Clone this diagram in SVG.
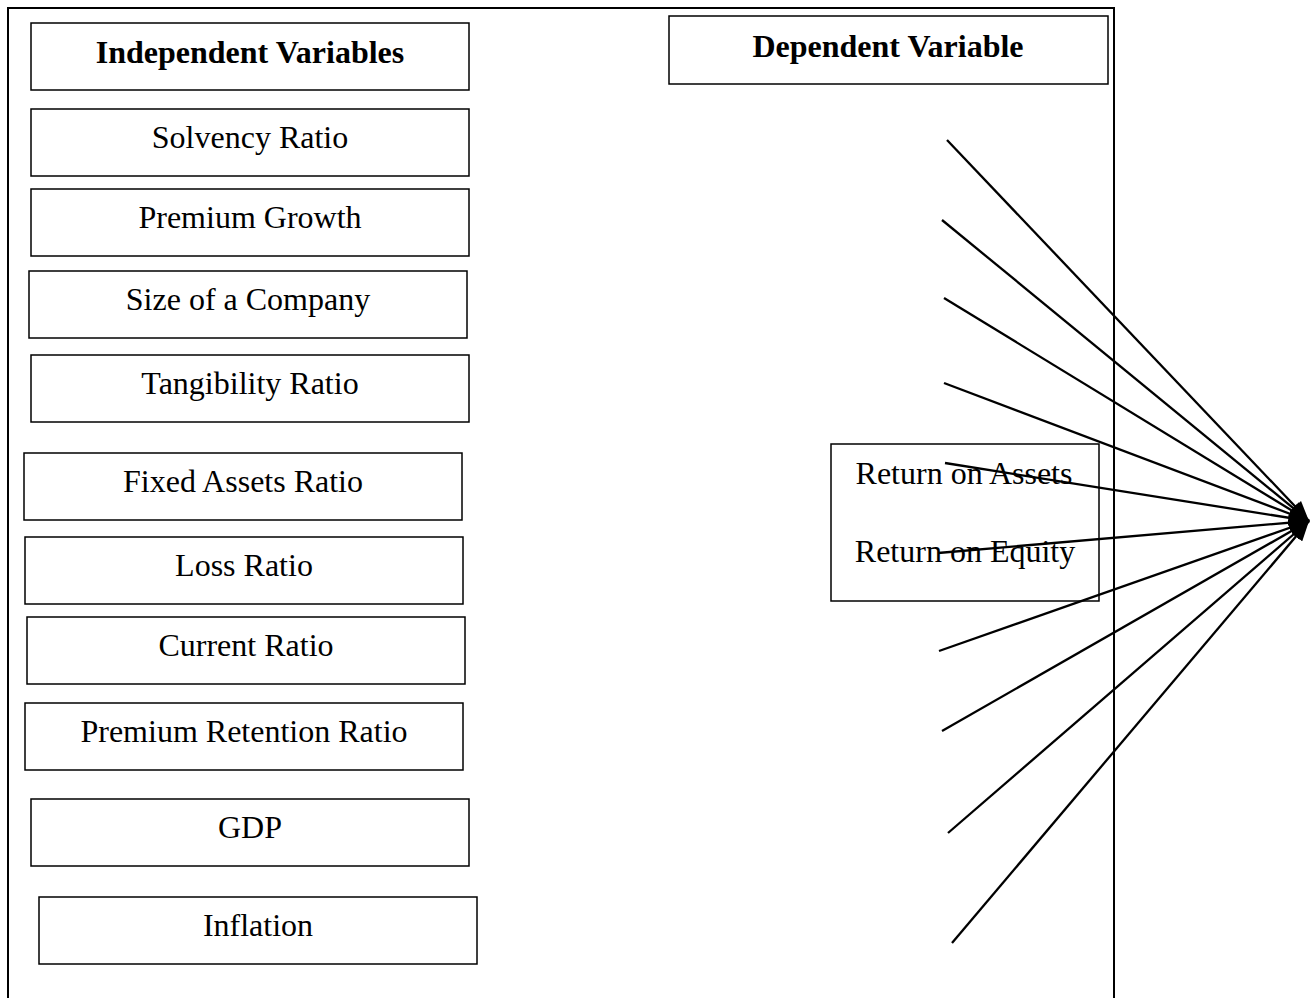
<svg xmlns="http://www.w3.org/2000/svg" width="1310" height="998" viewBox="0 0 1310 998">
<style>
.box{fill:#fff;stroke:#000;stroke-width:1.5}
.t{font-family:"Liberation Serif","Times New Roman",serif;font-size:32px;text-anchor:middle;fill:#000}
.b{font-weight:bold}
.frame{fill:none;stroke:#000;stroke-width:2}
.c{stroke:#000;stroke-width:2.3;fill:none;marker-end:url(#ah)}
</style>
<defs>
<marker id="ah" markerUnits="userSpaceOnUse" markerWidth="22" markerHeight="16" refX="20" refY="8" orient="auto">
<path d="M0,0 L20,8 L0,16 Z" fill="#000"/>
</marker>
</defs>
<rect width="1310" height="998" fill="#fff"/>
<g id="frame">
<path class="frame" d="M8,998 V8 H1114 V998"/>
</g>
<g id="n-independent"><rect class="box" x="31" y="23" width="438" height="67"/><text class="t b" x="250" y="63">Independent Variables</text></g>
<g id="n-solvency"><rect class="box" x="31" y="109" width="438" height="67"/><text class="t" x="250" y="148">Solvency Ratio</text></g>
<g id="n-premium-growth"><rect class="box" x="31" y="189" width="438" height="67"/><text class="t" x="250" y="228">Premium Growth</text></g>
<g id="n-size"><rect class="box" x="29" y="271" width="438" height="67"/><text class="t" x="248" y="310">Size of a Company</text></g>
<g id="n-tangibility"><rect class="box" x="31" y="355" width="438" height="67"/><text class="t" x="250" y="394">Tangibility Ratio</text></g>
<g id="n-fixed"><rect class="box" x="24" y="453" width="438" height="67"/><text class="t" x="243" y="492">Fixed Assets Ratio</text></g>
<g id="n-loss"><rect class="box" x="25" y="537" width="438" height="67"/><text class="t" x="244" y="576">Loss Ratio</text></g>
<g id="n-current"><rect class="box" x="27" y="617" width="438" height="67"/><text class="t" x="246" y="656">Current Ratio</text></g>
<g id="n-retention"><rect class="box" x="25" y="703" width="438" height="67"/><text class="t" x="244" y="742">Premium Retention Ratio</text></g>
<g id="n-gdp"><rect class="box" x="31" y="799" width="438" height="67"/><text class="t" x="250" y="838">GDP</text></g>
<g id="n-inflation"><rect class="box" x="39" y="897" width="438" height="67"/><text class="t" x="258" y="936">Inflation</text></g>
<g id="n-dependent"><rect class="box" x="669" y="16" width="439" height="68"/><text class="t b" x="888" y="57">Dependent Variable</text></g>
<g id="n-return"><rect class="box" x="831" y="444" width="268" height="157"/><text class="t" x="964" y="484">Return on Assets</text><text class="t" x="965" y="562">Return on Equity</text></g>
<g id="connectors">
<line class="c" x1="947" y1="140" x2="1309" y2="521"/>
<line class="c" x1="942" y1="220" x2="1309" y2="521"/>
<line class="c" x1="944" y1="298" x2="1309" y2="521"/>
<line class="c" x1="944" y1="383" x2="1309" y2="521"/>
<line class="c" x1="945" y1="463" x2="1309" y2="521"/>
<line class="c" x1="938" y1="553" x2="1309" y2="521"/>
<line class="c" x1="939" y1="651" x2="1309" y2="521"/>
<line class="c" x1="942" y1="731" x2="1309" y2="521"/>
<line class="c" x1="948" y1="833" x2="1309" y2="521"/>
<line class="c" x1="952" y1="943" x2="1309" y2="521"/>
</g>
</svg>
